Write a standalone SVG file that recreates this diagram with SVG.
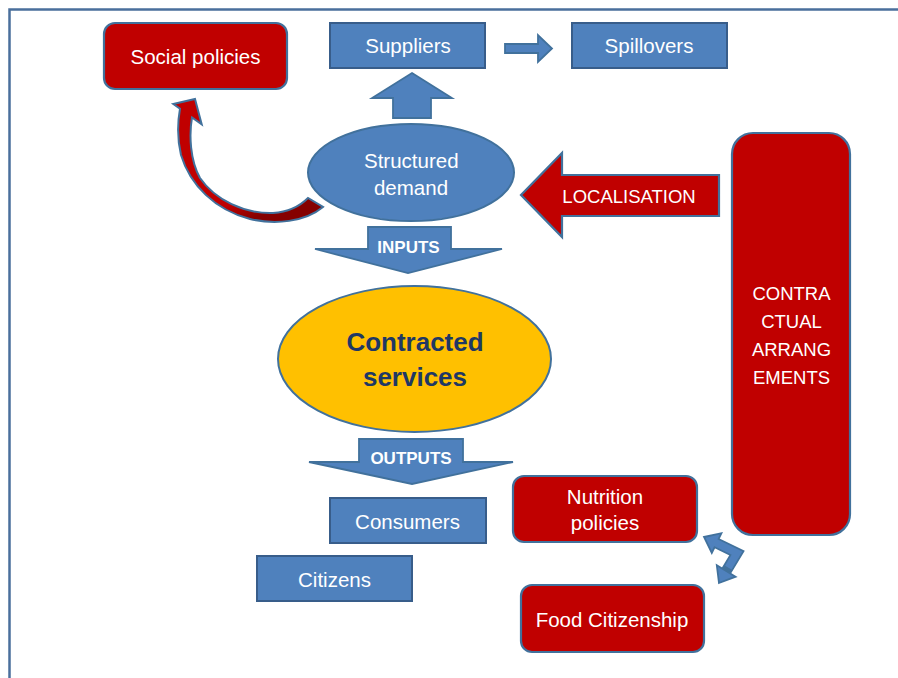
<svg xmlns="http://www.w3.org/2000/svg" width="898" height="678" viewBox="0 0 898 678">
<defs>
<style>
.t{font-family:"Liberation Sans",Arial,sans-serif;font-size:20.5px;fill:#fff;text-anchor:middle}
.caps{font-size:18.5px}
.b{font-weight:bold;font-size:17px}
.big{font-weight:bold;font-size:26px;fill:#1F3864}
.blue{fill:#4F81BD;stroke:#385D8A;stroke-width:2}
.red{fill:#C00000;stroke:#41719C;stroke-width:2.2}
.arr{fill:#4F81BD;stroke:#41719C;stroke-width:1.8;stroke-linejoin:miter}
</style>
<linearGradient id="cg" gradientUnits="userSpaceOnUse" x1="230" y1="185" x2="245" y2="222">
<stop offset="0.45" stop-color="#C00000"/>
<stop offset="1" stop-color="#850000"/>
</linearGradient>
</defs>
<rect x="9.5" y="9.5" width="900" height="700" fill="#fff" stroke="#4A6F9C" stroke-width="2.5"/>

<g id="connectors">
<polygon class="arr" points="412,73 452,98 431,98 431,118 393,118 393,98 372,98"/>
<polygon class="arr" points="505,44 538,44 538,35 552,48.5 538,62 538,53 505,53"/>
<path d="M195 99 L201.7 124.3 L192 117.4 C189 135 190 160 200 178 C215 200 245 214 273 213 C288 212 300 206 308 198 L323 207 C305 222 275 225 250 219 C215 210 190 185 181 155 C177 138 178 120 180 108.8 L173.3 104 Z" fill="url(#cg)" stroke="#41719C" stroke-width="2" stroke-linejoin="miter"/>
<g id="localisation-arrow">
<polygon points="521,195 562,153 562,175 719,175 719,216 562,216 562,237" fill="#C00000" stroke="#41719C" stroke-width="2.2"/>
<text class="t caps" x="629" y="202.5">LOCALISATION</text>
</g>
<g id="inputs-arrow">
<polygon class="arr" points="368,227 451,227 451,249 502,249 408,273 315,249 368,249"/>
<text class="t b" x="408.5" y="252.5">INPUTS</text>
</g>
<g id="outputs-arrow">
<polygon class="arr" points="359,439 463,439 463,462 513,462 412,484 309,462 359,462"/>
<text class="t b" x="411" y="464">OUTPUTS</text>
</g>
<g id="double-arrow">
<path d="M716.6 543.1 L737 553 L726.2 571" fill="none" stroke="#41719C" stroke-width="11" stroke-linejoin="miter"/>
<polygon points="704,537 721.4,533.2 711.8,553" fill="#4F81BD" stroke="#41719C" stroke-width="1.8"/>
<polygon points="719,583 735.6,576.7 716.8,565.3" fill="#4F81BD" stroke="#41719C" stroke-width="1.8"/>
<path d="M713 541.4 L737 553 L728.3 567.6" fill="none" stroke="#4F81BD" stroke-width="7.5" stroke-linejoin="miter"/>
</g>
</g>

<g id="social-policies">
<rect class="red" x="104" y="23" width="183" height="66" rx="11"/>
<text class="t" x="195.5" y="64">Social policies</text>
</g>
<g id="suppliers">
<rect class="blue" x="330" y="23" width="155" height="45"/>
<text class="t" x="408" y="53">Suppliers</text>
</g>
<g id="spillovers">
<rect class="blue" x="572" y="23" width="155" height="45"/>
<text class="t" x="649" y="53">Spillovers</text>
</g>
<g id="structured-demand">
<ellipse cx="411" cy="172.5" rx="103" ry="48.5" fill="#4F81BD" stroke="#41719C" stroke-width="2"/>
<text class="t" x="411.3" y="167.5">Structured</text>
<text class="t" x="411" y="195">demand</text>
</g>
<g id="contracted-services">
<ellipse cx="414.5" cy="359" rx="136.5" ry="73" fill="#FFC000" stroke="#41719C" stroke-width="2"/>
<text class="t big" x="415" y="350.5">Contracted</text>
<text class="t big" x="415" y="386">services</text>
</g>
<g id="contractual-arrangements">
<rect class="red" x="732" y="133" width="118" height="402" rx="21"/>
<text class="t caps" x="791.5" y="300">CONTRA</text>
<text class="t caps" x="791.5" y="328">CTUAL</text>
<text class="t caps" x="791.5" y="356">ARRANG</text>
<text class="t caps" x="791.5" y="384">EMENTS</text>
</g>
<g id="consumers">
<rect class="blue" x="330" y="498" width="156" height="45"/>
<text class="t" x="407.5" y="528.5">Consumers</text>
</g>
<g id="citizens">
<rect class="blue" x="257" y="556" width="155" height="45"/>
<text class="t" x="334.5" y="587">Citizens</text>
</g>
<g id="nutrition-policies">
<rect class="red" x="513" y="476" width="184" height="66" rx="11"/>
<text class="t" x="605" y="503.5">Nutrition</text>
<text class="t" x="605" y="530">policies</text>
</g>
<g id="food-citizenship">
<rect class="red" x="521" y="585" width="183" height="67" rx="11"/>
<text class="t" x="612" y="627">Food Citizenship</text>
</g>
</svg>
